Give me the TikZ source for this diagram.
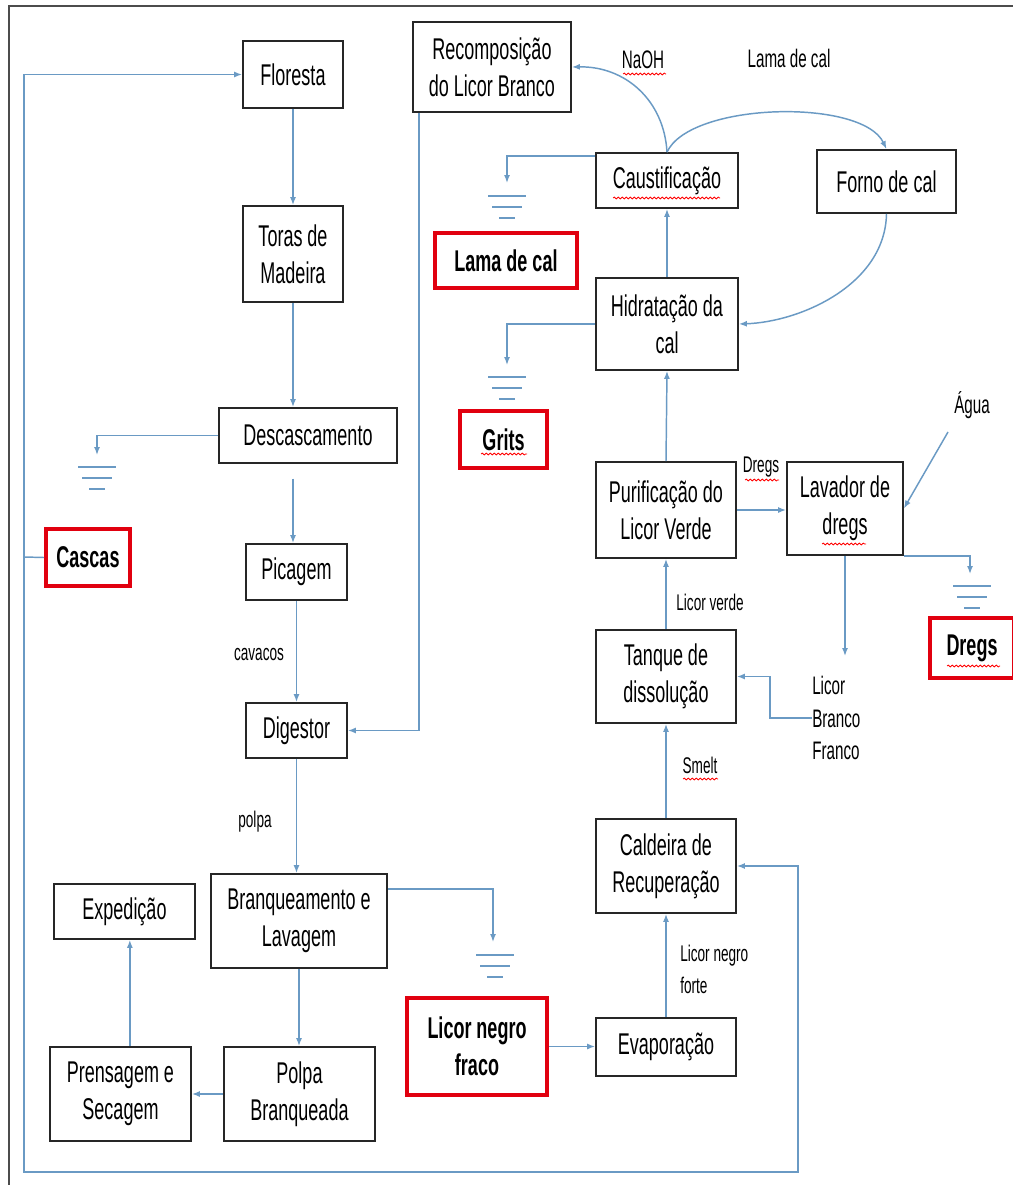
\documentclass[tikz,border=0pt]{standalone}
\usepackage{fontspec}
\setmainfont{Liberation Sans}[FakeStretch=0.6]
\usetikzlibrary{arrows.meta,decorations.pathmorphing}
\definecolor{conn}{HTML}{6A9AC4}
\definecolor{boxred}{HTML}{E1000F}
\begin{document}
\begin{tikzpicture}[x=0.75pt,y=-0.75pt,
  box/.style={draw=black!85, line width=1.3pt, fill=white, align=center, inner sep=0pt, font=\fontsize{22.5}{27.5}\selectfont},
  redbox/.style={box, draw=boxred, line width=3pt, font=\fontsize{22.5}{27.5}\selectfont\bfseries},
  flow/.style={draw=conn, line width=1.1pt, -{Latex[length=6pt,width=4.5pt]}},
  plain/.style={draw=conn, line width=1.1pt},
  small/.style={font=\fontsize{17}{24}\selectfont, inner sep=0pt, align=left},
  med/.style={font=\fontsize{19}{24.5}\selectfont, inner sep=0pt, align=left},
  squig/.style={draw=red, line width=0.6pt, decorate, decoration={snake, amplitude=0.7pt, segment length=3pt}},
  gnd/.pic={\draw[conn, line width=1.1pt] (-19,0)--(19,0) (-15,11)--(15,11) (-8,22)--(8,22);}
]
\useasboundingbox (0,0) rectangle (1013,1185);
\fill[white] (0,0) rectangle (1013,1185);
\draw[black!70, line width=1pt] (9,1185) -- (9,6) -- (1013,6);

% left column
\node[box, minimum width=75pt, minimum height=50.25pt] (flor) at (293,74.5) {Floresta};
\node[box, minimum width=75pt, minimum height=72pt] (toras) at (293,254) {Toras de\\Madeira};
\node[box, minimum width=133.5pt, minimum height=41.25pt] (desc) at (308,435.5) {Descascamento};
\node[box, minimum width=75.75pt, minimum height=42pt] (pica) at (296.5,572) {Picagem};
\node[box, minimum width=75.75pt, minimum height=41.25pt] (dig) at (296.5,730.5) {Digestor};
\node[redbox, minimum width=63pt, minimum height=42.75pt] (cascas) at (88,557.5) {Cascas};
\node[box, minimum width=132pt, minimum height=70.5pt] (branq) at (299,921) {Branqueamento e\\Lavagem};
\node[box, minimum width=105.75pt, minimum height=41.25pt] (exped) at (124.5,911.5) {Expedição};
\node[box, minimum width=105.75pt, minimum height=70.5pt] (prens) at (120.5,1094) {Prensagem e\\Secagem};
\node[box, minimum width=113.25pt, minimum height=70.5pt] (polpa) at (299.5,1094) {Polpa\\Branqueada};
\node[redbox, minimum width=105pt, minimum height=72.75pt] (lnf) at (477,1046.5) {Licor negro\\fraco};

% right column
\node[box, minimum width=118.5pt, minimum height=67.5pt] (recomp) at (492,67) {Recomposição\\do Licor Branco};
\node[box, minimum width=106.5pt, minimum height=41.25pt] (caust) at (667,180.5) {Caustificação};
\node[box, minimum width=104.25pt, minimum height=47.25pt] (forno) at (886.5,181.5) {Forno de cal};
\node[redbox, minimum width=106.5pt, minimum height=41.25pt] (lama) at (506,260.5) {Lama de cal};
\node[box, minimum width=106.5pt, minimum height=69pt] (hidrat) at (667,324) {Hidratação da\\cal};
\node[redbox, minimum width=65.25pt, minimum height=42.75pt] (grits) at (503.5,439.5) {Grits};
\node[box, minimum width=105pt, minimum height=72pt] (purif) at (666,510) {Purificação do\\Licor Verde};
\node[box, minimum width=87pt, minimum height=69.75pt] (lav) at (845,508.5) {Lavador de\\dregs};
\node[redbox, minimum width=63pt, minimum height=45pt] (dregs) at (972,648) {Dregs};
\node[box, minimum width=105pt, minimum height=69.75pt] (tanque) at (666,676.5) {Tanque de\\dissolução};
\node[box, minimum width=105pt, minimum height=70.5pt] (cald) at (666,866) {Caldeira de\\Recuperação};
\node[box, minimum width=105pt, minimum height=43.5pt] (evap) at (666,1047) {Evaporação};

% free labels
\node[med] (naoh) at (643,60) {NaOH};
\node[med] (lamatxt) at (789,58) {Lama de cal};
\node[small] (cav) at (259,655) {cavacos};
\node[small] (polpatxt) at (255,822) {polpa};
\node[small] (dregstxt) at (761,467) {Dregs};
\node[small] (lv) at (710,602) {Licor verde};
\node[small] (smelt) at (700,765) {Smelt};
\node[small, anchor=west] (lnforte) at (680,969) {Licor negro\\forte};
\node[med] (agua) at (972,405) {Água};
\node[med, anchor=west] (lbf) at (812,718) {Licor\\Branco\\Franco};

% ground symbols
\pic at (97,467) {gnd};
\pic at (507,196) {gnd};
\pic at (507,377) {gnd};
\pic at (495,955) {gnd};
\pic at (972,586) {gnd};
\coordinate (gcascas) at (97,455);
\coordinate (glama) at (507,183);
\coordinate (ggrits) at (507,365);
\coordinate (glnf) at (493,942);
\coordinate (gdregs) at (970,574);

% main chain
\draw[flow] (flor.south) -- (toras.north);
\draw[flow] (toras.south) -- (toras.south |- desc.north);
\draw[flow, shorten <=11pt] (toras.south |- desc.south) -- (toras.south |- pica.north);
\draw[flow] (pica.south) -- (dig.north);
\draw[flow] (dig.south) -- (dig.south |- branq.north);
\draw[flow] (branq.south) -- (branq.south |- polpa.north);
\draw[flow] (polpa.west) -- (prens.east);
\draw[flow] ([xshift=7pt]prens.north) -- ([xshift=7pt]prens.north |- exped.south);

% to grounds
\draw[flow] (desc.west) -| (gcascas);
\draw[flow] ([yshift=-3pt]caust.north west) -| (glama);
\draw[flow] (hidrat.west) -| (ggrits);
\draw[flow] ([yshift=-12pt]branq.north east) -| (glnf);
\draw[flow] (lav.south east) -| (gdregs);

% recovery chain
\draw[flow] (lnf.east) -- (lnf.east -| evap.west);
\draw[flow] (evap.north) -- (cald.south);
\draw[flow] (cald.north) -- (tanque.south);
\draw[flow] (tanque.north) -- (purif.south);
\draw[flow] (purif.north) -- (hidrat.south);
\draw[flow] (hidrat.north) -- (caust.north |- hidrat.north) -- (caust.south);
\draw[flow] (purif.east) -- (purif.east -| lav.west);
\coordinate (lbfin) at (845,656);
\draw[flow] (lav.south) -- (lbfin);
\draw[flow] (lbf.west) -- (770,718) |- (tanque.east);
\coordinate (aguas) at (948,432);
\draw[flow] (aguas) -- (lav.east);

% curves
\draw[flow] (caust.north) .. controls (664,100) and (625,66) .. (recomp.east);
\draw[flow] (caust.north) .. controls (690,102) and (862,98) .. (forno.north);
\draw[flow] (forno.south) .. controls (885,285) and (800,322) .. (hidrat.east);

% white liquor to digestor
\draw[flow] ([xshift=5pt]recomp.south west) |- (dig.east);

% bark loop
\coordinate (L) at (24,557);
\draw[plain] (cascas.west) -- (L);
\draw[flow] (L) |- (flor.west);
\draw[flow] (L) |- (798,1172) |- (cald.east);

% spell-check squiggles
\draw[squig] (623,74) -- (666,74);
\draw[squig] (613,198) -- (720,198);
\draw[squig] (481,454) -- (527,454);
\draw[squig] (745,480) -- (779,480);
\draw[squig] (822,544) -- (866,544);
\draw[squig] (947,666) -- (1000,666);
\draw[squig] (683,779) -- (718,779);
\end{tikzpicture}
\end{document}
